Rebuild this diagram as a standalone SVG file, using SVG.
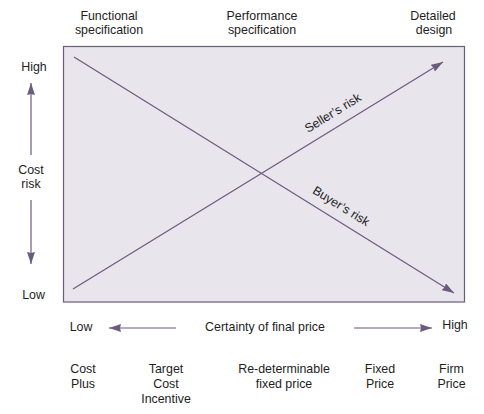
<svg xmlns="http://www.w3.org/2000/svg" width="484" height="414" viewBox="0 0 484 414">
<style>
text{font-family:"Liberation Sans",Arial,sans-serif;font-size:12.4px;fill:#1e1e1e;text-anchor:middle}
.ln{stroke:#6b5b7d;stroke-width:1.2;fill:none}
</style>
<defs>
<marker id="ah" viewBox="0 0 12 8" refX="12" refY="4" markerWidth="12" markerHeight="8" markerUnits="userSpaceOnUse" orient="auto">
<path d="M0,0 L12,4 L0,8 L1,4 Z" fill="#6b5b7d"/>
</marker>
</defs>
<rect width="484" height="414" fill="#fff"/>
<g id="chart">
<rect x="63.5" y="46.5" width="401" height="255.5" fill="#e8e5ec" stroke="#6b5b7d" stroke-width="1.2"/>
</g>
<g id="connectors">
<line class="ln" x1="74" y1="57" x2="454" y2="293" marker-end="url(#ah)"/>
<line class="ln" x1="73" y1="289" x2="443" y2="62" marker-end="url(#ah)"/>
<line class="ln" x1="31" y1="155" x2="31" y2="83" marker-end="url(#ah)"/>
<line class="ln" x1="31" y1="200" x2="31" y2="264" marker-end="url(#ah)"/>
<line class="ln" x1="176" y1="328" x2="109" y2="328" marker-end="url(#ah)"/>
<line class="ln" x1="354" y1="328" x2="432" y2="328" marker-end="url(#ah)"/>
</g>
<g id="line-labels">
<text transform="translate(335,116.4) rotate(-31.5)">Seller’s risk</text>
<text transform="translate(339,209.6) rotate(31.8)">Buyer’s risk</text>
</g>
<g id="top-labels">
<text x="109" y="20">Functional<tspan x="109" dy="14">specification</tspan></text>
<text x="262" y="20">Performance<tspan x="262" dy="14">specification</tspan></text>
<text x="433" y="20">Detailed<tspan x="434" dy="14">design</tspan></text>
</g>
<g id="y-axis">
<text x="34" y="71">High</text>
<text x="31" y="174">Cost<tspan x="31" dy="14">risk</tspan></text>
<text x="33.5" y="299">Low</text>
</g>
<g id="x-axis">
<text x="81" y="331">Low</text>
<text x="265" y="331">Certainty of final price</text>
<text x="455" y="329">High</text>
</g>
<g id="contracts">
<text x="83" y="373">Cost<tspan x="83" dy="15">Plus</tspan></text>
<text x="166" y="373">Target<tspan x="166" dy="15">Cost</tspan><tspan x="166" dy="15">Incentive</tspan></text>
<text x="284" y="373">Re-determinable<tspan x="284" dy="15">fixed price</tspan></text>
<text x="380" y="373">Fixed<tspan x="380" dy="15">Price</tspan></text>
<text x="451.5" y="373">Firm<tspan x="451.5" dy="15">Price</tspan></text>
</g>
</svg>
